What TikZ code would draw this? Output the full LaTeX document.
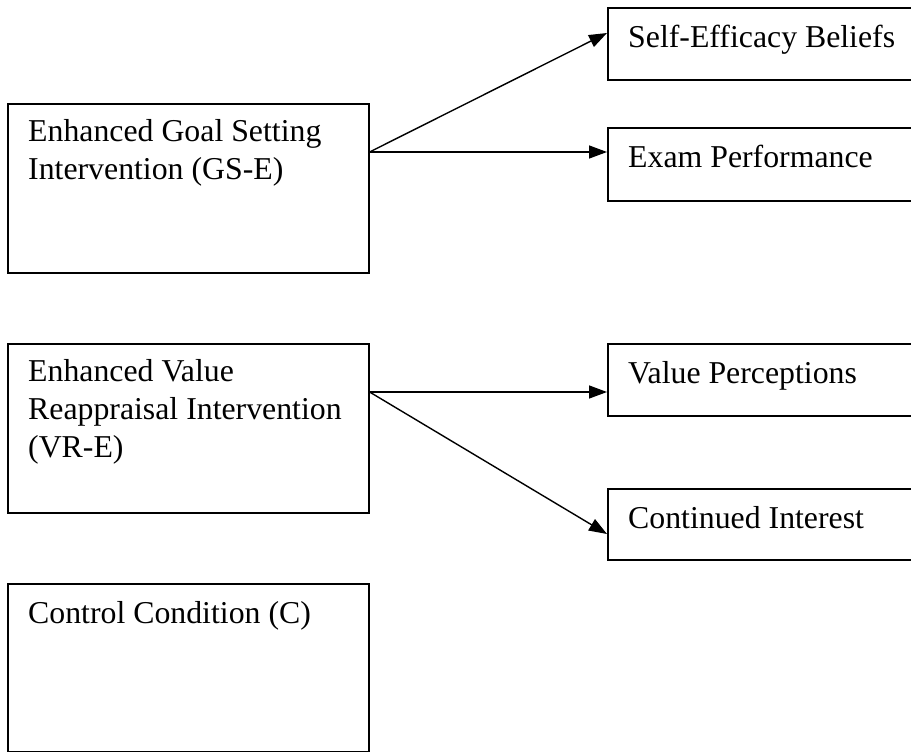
\documentclass[tikz,border=0pt]{standalone}
\usepackage{fontspec}
\setmainfont{Liberation Serif}
\usetikzlibrary{arrows.meta}
\tikzset{
  condbox/.style={draw,line width=1.6pt,anchor=north west,inner sep=0pt},
  boxtext/.style={anchor=north west,align=left,inner sep=0pt,
    font=\fontsize{31.8}{38}\selectfont,execute at begin node={\rule{0pt}{24pt}}},
}
\begin{document}
\begin{tikzpicture}[x=1pt,y=-1pt,>={Triangle[length=18pt,width=13pt]}]
  \useasboundingbox (0,0) rectangle (911,752);
  \clip (0,0) rectangle (911,752);

  % conditions
  \node[condbox,minimum width=361pt,minimum height=169pt] (gs) at (7,103) {};
  \node[condbox,minimum width=361pt,minimum height=169pt] (vr) at (7,343) {};
  \node[condbox,minimum width=361pt,minimum height=168pt] (ctrl) at (7,583) {};
  % outcomes
  \node[condbox,minimum width=340pt,minimum height=72pt] (se) at (607,7) {};
  \node[condbox,minimum width=340pt,minimum height=73pt] (ep) at (607,127) {};
  \node[condbox,minimum width=340pt,minimum height=72pt] (vp) at (607,343) {};
  \node[condbox,minimum width=340pt,minimum height=71pt] (ci) at (607,488) {};

  \node[boxtext] (gs-txt) at ([shift={(21,16)}]gs.north west) {Enhanced Goal Setting\\Intervention (GS-E)};
  \node[boxtext] (vr-txt) at ([shift={(21,16)}]vr.north west) {Enhanced Value\\Reappraisal Intervention\\(VR-E)};
  \node[boxtext] (ctrl-txt) at ([shift={(21,16)}]ctrl.north west) {Control Condition (C)};
  \node[boxtext] (se-txt) at ([shift={(21,16)}]se.north west) {Self-Efficacy Beliefs};
  \node[boxtext] (ep-txt) at ([shift={(21,16)}]ep.north west) {Exam Performance};
  \node[boxtext] (vp-txt) at ([shift={(21,16)}]vp.north west) {Value Perceptions};
  \node[boxtext] (ci-txt) at ([shift={(21,16)}]ci.north west) {Continued Interest};

  \coordinate (gs-out) at ([yshift=-49pt]gs.north east);
  \coordinate (vr-out) at ([yshift=-49pt]vr.north east);
  \coordinate (se-in) at ([yshift=-26pt]se.north west);
  \coordinate (ep-in) at ([yshift=-25pt]ep.north west);
  \coordinate (vp-in) at ([yshift=-49pt]vp.north west);
  \coordinate (ci-in) at ([yshift=-46pt]ci.north west);

  \draw[->,line width=1.4pt] (gs-out) -- (se-in);
  \draw[->,line width=1.4pt] (gs-out) -- (ep-in);
  \draw[->,line width=1.4pt] (vr-out) -- (vp-in);
  \draw[->,line width=1.4pt] (vr-out) -- (ci-in);
\end{tikzpicture}
\end{document}
